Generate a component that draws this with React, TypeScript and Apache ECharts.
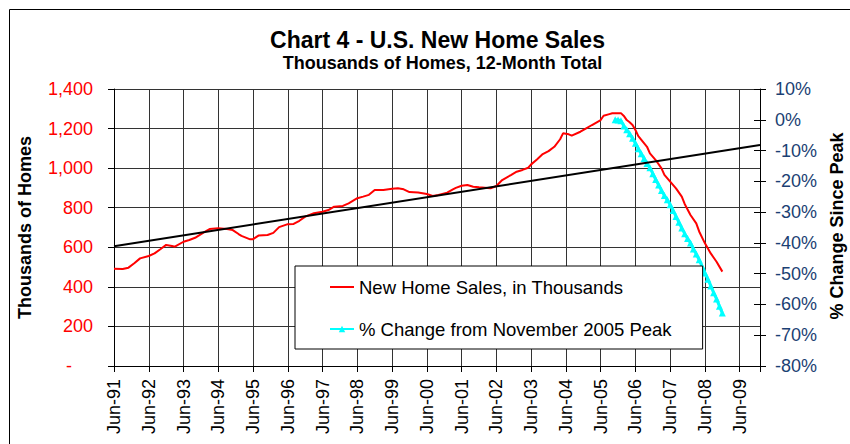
import React, { useEffect, useRef } from 'react';
import * as echarts from 'echarts';

// ---- data ----
const xTickLabels = [
  'Jun-91', 'Jun-92', 'Jun-93', 'Jun-94', 'Jun-95', 'Jun-96', 'Jun-97', 'Jun-98', 'Jun-99',
  'Jun-00', 'Jun-01', 'Jun-02', 'Jun-03', 'Jun-04', 'Jun-05', 'Jun-06', 'Jun-07', 'Jun-08', 'Jun-09',
];

// months after Jun-91
const salesMonths = [
  0, 3, 5, 7, 9, 12, 14, 16, 18, 20, 21, 24, 26, 28, 31, 33, 36, 39, 41, 43, 44, 47, 48, 50, 53, 55, 57,
  60, 62, 64, 66, 69, 72, 74, 76, 79, 81, 84, 86, 88, 90, 93, 96, 98, 100, 102, 105, 108, 110, 112, 115,
  117, 118, 120, 122, 124, 126, 129, 130, 132, 134, 137, 139, 141, 143, 144, 146, 148, 150, 152, 154, 155,
  157, 158, 161, 163, 165, 168, 169, 171, 172, 173, 175, 176, 177, 178, 179, 180, 181, 184, 185, 187, 189,
  190, 192, 194, 196, 197, 199, 201, 202, 204, 206, 208, 210,
];
const salesValues = [
  492, 490, 497, 519, 544, 556, 569, 590, 612, 607, 603, 628, 637, 648, 675, 692, 696, 692, 687, 667, 658, 640, 641, 660, 662, 673, 702,
  717, 718, 734, 755, 772, 780, 788, 805, 809, 822, 848, 856, 865, 890, 890, 896, 898, 893, 879, 877, 869, 859, 864, 876,
  893, 900, 911, 915, 906, 903, 900, 898, 910, 940, 965, 982, 991, 1002, 1019, 1044, 1071, 1086, 1108, 1146, 1176,
  1171, 1164, 1184, 1201, 1218, 1243, 1265, 1273, 1277, 1277, 1278, 1264, 1243, 1232, 1218, 1193, 1162, 1108, 1075, 1041, 999,
  966, 932, 898, 856, 819, 763, 721, 680, 620, 569, 527, 477,
];

const peakMonth = 173; // November 2005
const pctValues = [
  0, -0.1, -0.3, -2.0, -3.2, -4.5, -6.0, -7.6, -9.4, -11.0, -12.6, -14.2, -15.6, -17.5, -19.4, -21.2, -23.0,
  -24.6, -26.0, -27.6, -29.5, -31.4, -33.3, -35.2, -37.0, -38.6, -40.0, -42.0, -43.6, -45.5, -47.6, -49.8,
  -51.8, -54.0, -56.2, -58.2, -60.6, -62.8,
];

const trendMonths = [0, 223];
const trendValues = [605, 1117];

const SALES_NAME = 'New Home Sales, in Thousands';
const PCT_NAME = '% Change from November 2005 Peak';

const FONT = '"Liberation Sans", Arial, Helvetica, sans-serif';

export default function App() {
  const ref = useRef<HTMLDivElement>(null);

  useEffect(() => {
    if (!ref.current) return;
    const chart = echarts.init(ref.current, undefined, { renderer: 'svg' });

    const salesData = salesMonths.map((m, i) => [m, salesValues[i]]);
    const pctData = pctValues.map((v, i) => [peakMonth + i, v]);
    const trendData = trendMonths.map((m, i) => [m, trendValues[i]]);

    chart.setOption({
      animation: false,
      backgroundColor: '#ffffff',
      textStyle: { fontFamily: FONT },
      grid: { left: 114, right: 90, top: 89, bottom: 78, containLabel: false },
      legend: {
        data: [
          {
            name: SALES_NAME,
            itemStyle: { color: 'rgba(0,0,0,0)', borderColor: 'rgba(0,0,0,0)', borderWidth: 0 },
          },
          { name: PCT_NAME },
        ],
        orient: 'vertical',
        left: 295,
        top: 266,
        padding: [10, 31, 9, 34],
        itemGap: 20,
        itemWidth: 24,
        itemHeight: 8,
        backgroundColor: '#ffffff',
        borderColor: '#000000',
        borderWidth: 1,
        borderRadius: 0,
        textStyle: { fontSize: 18.5, color: '#000', fontFamily: FONT, lineHeight: 22 },
      },
      xAxis: {
        type: 'value',
        min: 0,
        max: 223,
        interval: 12,
        axisLine: { show: true, lineStyle: { color: '#000', width: 1 } },
        axisTick: { show: true, length: 6, lineStyle: { color: '#000' } },
        splitLine: { show: true, lineStyle: { color: '#333', width: 1 } },
        axisLabel: {
          rotate: 90,
          margin: 13,
          fontSize: 18,
          color: '#000',
          fontFamily: FONT,
          formatter: (v: number) => (v % 12 === 0 ? xTickLabels[v / 12] ?? '' : ''),
        },
      },
      yAxis: [
        {
          type: 'value',
          position: 'left',
          min: 0,
          max: 1400,
          interval: 200,
          axisLine: { show: true, lineStyle: { color: '#000' } },
          axisTick: { show: true, length: 6, lineStyle: { color: '#000' } },
          splitLine: { show: true, lineStyle: { color: '#333', width: 1 } },
          axisLabel: {
            color: '#ff0000',
            fontSize: 18,
            margin: 21,
            fontFamily: FONT,
            formatter: (v: number) => (v === 0 ? '{z|-}' : v.toLocaleString('en-US')),
            rich: { z: { color: '#ff0000', fontSize: 18, fontFamily: FONT, padding: [0, 21, 0, 0] } },
          },
        },
        {
          type: 'value',
          position: 'right',
          min: -80,
          max: 10,
          interval: 10,
          axisLine: { show: true, lineStyle: { color: '#000' } },
          axisTick: { show: true, length: 6, lineStyle: { color: '#000' } },
          splitLine: { show: false },
          axisLabel: {
            color: '#1b3f73',
            fontSize: 18,
            margin: 15,
            fontFamily: FONT,
            formatter: (v: number) => `${v}%`,
          },
        },
        {
          type: 'value',
          position: 'right',
          min: -80,
          max: 10,
          interval: 10,
          axisLine: { show: false },
          axisTick: { show: true, inside: true, length: 6, lineStyle: { color: '#000' } },
          splitLine: { show: false },
          axisLabel: { show: false },
        },
      ],
      series: [
        {
          name: SALES_NAME,
          type: 'line',
          yAxisIndex: 0,
          data: salesData,
          symbol: 'none',
          lineStyle: { color: '#ff0000', width: 2 },
          itemStyle: { color: '#ff0000' },
          z: 3,
        },
        {
          name: PCT_NAME,
          type: 'line',
          yAxisIndex: 1,
          data: pctData,
          symbol: 'triangle',
          symbolSize: 7,
          lineStyle: { color: '#00ffff', width: 3 },
          itemStyle: { color: '#00ffff' },
          z: 3,
        },
        {
          name: 'Linear trend',
          type: 'line',
          yAxisIndex: 0,
          data: trendData,
          symbol: 'none',
          lineStyle: { color: '#000000', width: 2 },
          itemStyle: { color: '#000000' },
          z: 4,
        },
      ],
      graphic: [
        {
          type: 'rect',
          silent: true,
          shape: { x: 9.5, y: 9.5, width: 1000, height: 1000 },
          style: { fill: 'none', stroke: '#000', lineWidth: 1 },
        },
        {
          type: 'text',
          x: 437.5,
          y: 40,
          style: {
            text: 'Chart 4 - U.S. New Home Sales',
            font: `bold 23px ${FONT}`,
            fill: '#000',
            textAlign: 'center',
            textVerticalAlign: 'middle',
          },
        },
        {
          type: 'text',
          x: 442.5,
          y: 63,
          style: {
            text: 'Thousands of Homes, 12-Month Total',
            font: `bold 18px ${FONT}`,
            fill: '#000',
            textAlign: 'center',
            textVerticalAlign: 'middle',
          },
        },
        {
          type: 'text',
          x: 25,
          y: 227.5,
          rotation: Math.PI / 2,
          style: {
            text: 'Thousands of Homes',
            font: `bold 18px ${FONT}`,
            fill: '#000',
            textAlign: 'center',
            textVerticalAlign: 'middle',
          },
        },
        {
          type: 'text',
          x: 836.5,
          y: 226,
          rotation: Math.PI / 2,
          style: {
            text: '% Change Since Peak',
            font: `bold 18px ${FONT}`,
            fill: '#000',
            textAlign: 'center',
            textVerticalAlign: 'middle',
          },
        },
      ],
    });

    return () => chart.dispose();
  }, []);

  return (
    <div
      ref={ref}
      style={{ position: 'absolute', left: 0, top: 0, width: 850, height: 444, background: '#fff' }}
    />
  );
}
